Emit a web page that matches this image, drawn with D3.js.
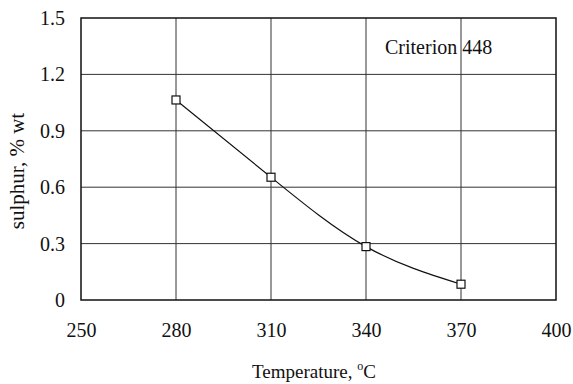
<!DOCTYPE html>
<html>
<head>
<meta charset="utf-8">
<script src="https://cdn.jsdelivr.net/npm/d3@7"></script>
<style>
  html, body { margin: 0; padding: 0; background: #fff; }
</style>
</head>
<body>
<svg id="chart" width="573" height="384"></svg>
<script>
// Sulphur content versus reactor temperature
const temperatures = [280, 310, 340, 370];
const sulphur = [1.064, 0.653, 0.284, 0.084];
const xTicks = [250, 280, 310, 340, 370, 400];
const yTicks = [0, 0.3, 0.6, 0.9, 1.2, 1.5];
const seriesLabel = "Criterion 448";

const SERIF = '"Liberation Serif", "Times New Roman", Times, serif';
const svg = d3.select("#chart");
const margin = { left: 81, top: 18, right: 17, bottom: 84 };
const W = 573, H = 384;
const FS = 20;

const x = d3.scaleLinear().domain([250, 400]).range([margin.left, W - margin.right]);
const y = d3.scaleLinear().domain([0, 1.5]).range([H - margin.bottom, margin.top]);

// grid
const grid = svg.append("g");
grid.selectAll(".vg").data(xTicks.slice(1, -1)).join("line")
  .attr("x1", d => x(d)).attr("x2", d => x(d))
  .attr("y1", y(0)).attr("y2", y(1.5))
  .attr("stroke", "#333").attr("stroke-width", 1);
grid.selectAll(".hg").data(yTicks.slice(1, -1)).join("line")
  .attr("x1", x(250)).attr("x2", x(400))
  .attr("y1", d => y(d)).attr("y2", d => y(d))
  .attr("stroke", "#333").attr("stroke-width", 1);

// frame
svg.append("rect")
  .attr("x", x(250)).attr("y", y(1.5))
  .attr("width", x(400) - x(250)).attr("height", y(0) - y(1.5))
  .attr("fill", "none").attr("stroke", "#111").attr("stroke-width", 1.5);

// axes (labels only)
const xAxis = d3.axisBottom(x).tickValues(xTicks).tickSize(0).tickPadding(23);
const gx = svg.append("g").attr("transform", `translate(0,${y(0)})`).call(xAxis);
gx.select(".domain").remove();
gx.selectAll("text").attr("font-size", FS).style("font-family", SERIF).attr("fill", "#111");

const yAxis = d3.axisLeft(y).tickValues(yTicks).tickSize(0).tickPadding(16)
  .tickFormat(d => d === 0 ? "0" : d3.format(".1f")(d));
const gy = svg.append("g").attr("transform", `translate(${x(250)},0)`).call(yAxis);
gy.select(".domain").remove();
gy.selectAll("text").attr("font-size", FS).style("font-family", SERIF).attr("fill", "#111");

// smooth curve through the measurements
const pts = temperatures.map((t, i) => [t, sulphur[i]]);
svg.append("path")
  .datum(pts)
  .attr("d", d3.line().x(d => x(d[0])).y(d => y(d[1])).curve(d3.curveNatural))
  .attr("fill", "none").attr("stroke", "#111").attr("stroke-width", 1.2);

// markers
svg.selectAll(".mk").data(pts).join("rect")
  .attr("x", d => x(d[0]) - 4).attr("y", d => y(d[1]) - 4)
  .attr("width", 8).attr("height", 8)
  .attr("fill", "#fff").attr("stroke", "#111").attr("stroke-width", 1.2);

// series label
svg.append("text").attr("x", 385).attr("y", 54).attr("font-size", FS)
  .style("font-family", SERIF).attr("fill", "#111").text(seriesLabel);

// axis titles
const xt = svg.append("text").attr("x", 314).attr("y", 378).attr("text-anchor", "middle")
  .attr("font-size", 19).style("font-family", SERIF).attr("fill", "#111");
xt.append("tspan").text("Temperature, ");
xt.append("tspan").attr("font-size", 12).attr("dy", -8).text("o");
xt.append("tspan").attr("dy", 8).text("C");

svg.append("text")
  .attr("transform", `translate(24,${(y(0) + y(1.5)) / 2 + 12}) rotate(-90)`)
  .attr("text-anchor", "middle").attr("font-size", 21)
  .style("font-family", SERIF).attr("fill", "#111")
  .text("sulphur, % wt");
</script>
</body>
</html>
